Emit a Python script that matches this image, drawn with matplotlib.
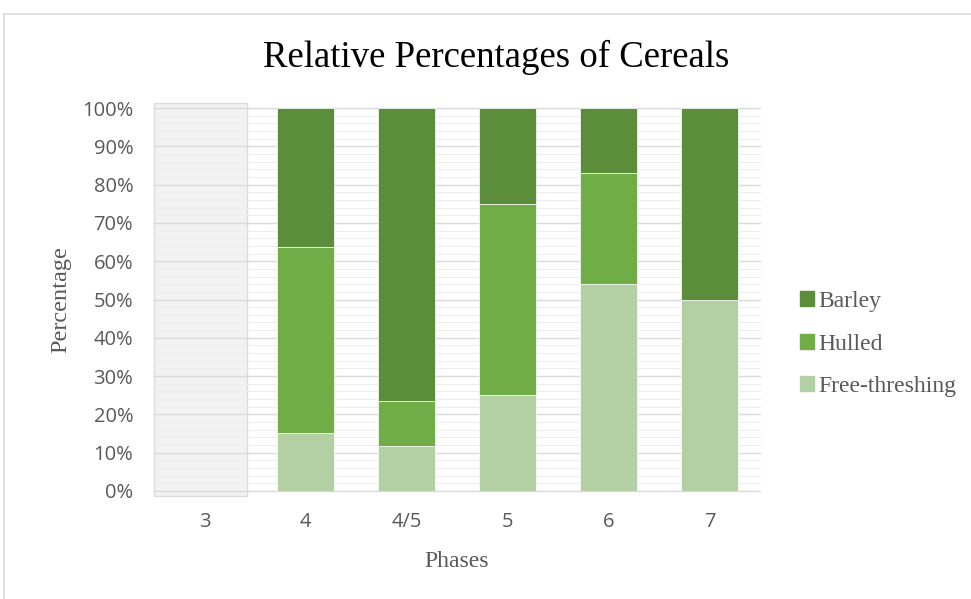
import matplotlib
matplotlib.use("Agg")
import matplotlib.pyplot as plt
from matplotlib.patches import Rectangle
from matplotlib.lines import Line2D
import numpy as np

phases = ["3", "4", "4/5", "5", "6", "7"]
free_threshing = [0, 15.2, 11.8, 25, 54, 50]
hulled = [0, 48.4, 11.8, 50, 29, 0]
barley = [0, 36.4, 76.4, 25, 17, 50]
yticks = [0, 10, 20, 30, 40, 50, 60, 70, 80, 90, 100]

c_barley = "#5B8D3B"
c_hulled = "#70AD47"
c_free = "#B3CFA4"
txt = "#595959"

fig = plt.figure(figsize=(9.71, 5.99), dpi=100)
ax = fig.add_axes([154/971, 1-491/599, (760-154)/971, (491-108)/599])

x = np.arange(len(phases))
ax.set_xlim(-0.5, len(phases)-0.5)
ax.set_ylim(0, 100)

# shaded no-data region for phase 3
ax.add_patch(Rectangle((-0.5, -1.3), 0.92, 102.6, facecolor="#F2F2F2",
                       edgecolor="#DCDCDC", lw=1.0, clip_on=False, zorder=0.5))

# gridlines
for v in np.arange(0, 101, 2):
    major = (v % 10 == 0)
    ax.axhline(v, color="#D9D9D9" if major else "#EDEDED",
               lw=1.0 if major else 0.8, zorder=0.8, clip_on=False)

w = 0.57
b1 = np.array(free_threshing)
b2 = b1 + np.array(hulled)
ax.bar(x, free_threshing, w, color=c_free, edgecolor="white", lw=0.5, zorder=2, label="Free-threshing")
ax.bar(x, hulled, w, bottom=b1, color=c_hulled, edgecolor="white", lw=0.5, zorder=2, label="Hulled")
ax.bar(x, barley, w, bottom=b2, color=c_barley, edgecolor="white", lw=0.5, zorder=2, label="Barley")

for s in ax.spines.values():
    s.set_visible(False)
ax.tick_params(length=0)
ax.set_yticks(yticks)
ax.set_yticklabels([f"{v}%" for v in yticks], fontsize=14.5, color=txt,
                   fontfamily="Open Sans")
ax.set_xticks(x)
ax.set_xticklabels(phases, fontsize=14.5, color=txt, fontfamily="Open Sans")
ax.tick_params(axis="y", pad=15)
ax.tick_params(axis="x", pad=15)

ax.set_ylabel("Percentage", fontsize=17.5, color=txt, fontfamily="Liberation Serif", labelpad=8)
ax.set_xlabel("Phases", fontsize=17, color=txt, fontfamily="Liberation Serif", labelpad=14)

fig.text(496/971, 1-57/599, "Relative Percentages of Cereals", ha="center", va="center",
         fontsize=26.5, color="#000000", fontfamily="Liberation Serif")

handles = [Rectangle((0, 0), 1, 1, color=c_barley),
           Rectangle((0, 0), 1, 1, color=c_hulled),
           Rectangle((0, 0), 1, 1, color=c_free)]
leg = fig.legend(handles, ["Barley", "Hulled", "Free-threshing"],
                 loc="center left", bbox_to_anchor=(779/971, 1-344/599),
                 frameon=False, prop={"family": "Liberation Serif", "size": 17},
                 handlelength=0.6, handleheight=0.6, handletextpad=0.15,
                 labelspacing=0.9, labelcolor=txt)

# outer chart frame (top and left edges visible)
fig.add_artist(Line2D([4/971, 4/971], [0, 1-14/599], transform=fig.transFigure,
                      color="#D9D9D9", lw=1.2))
fig.add_artist(Line2D([4/971, 1], [1-14/599, 1-14/599], transform=fig.transFigure,
                      color="#D9D9D9", lw=1.2))

fig.savefig("out.png", dpi=100)
